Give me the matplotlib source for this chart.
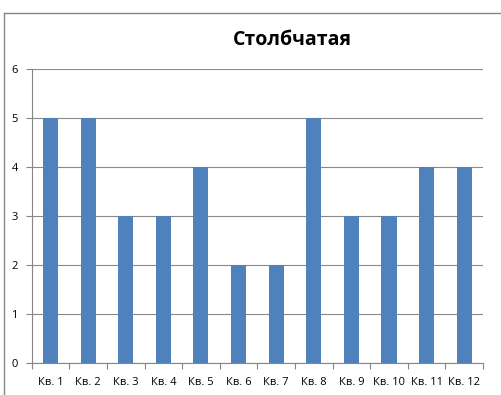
import matplotlib.pyplot as plt
from matplotlib.lines import Line2D
import numpy as np

plt.rcParams['font.family'] = ['Open Sans', 'DejaVu Sans']

categories = ['Кв. 1', 'Кв. 2', 'Кв. 3', 'Кв. 4', 'Кв. 5', 'Кв. 6',
              'Кв. 7', 'Кв. 8', 'Кв. 9', 'Кв. 10', 'Кв. 11', 'Кв. 12']
values = [5, 5, 3, 3, 4, 2, 2, 5, 3, 3, 4, 4]
yticks = [0, 1, 2, 3, 4, 5, 6]
title = 'Столбчатая'

fig = plt.figure(figsize=(5.02, 3.95), dpi=100)
W, H = 502, 395
ax = fig.add_axes([31.7 / W, 1 - 363 / H, (483 - 31.7) / W, (363 - 69) / H])

x = np.arange(len(categories))
ax.bar(x, values, width=0.4, color='#4F81BD', zorder=3)

ax.set_xlim(-0.5, len(categories) - 0.5)
ax.set_ylim(0, 6)
ax.set_yticks(yticks)
ax.set_yticklabels([str(v) for v in yticks], fontsize=8)
ax.set_xticks(x)
ax.set_xticklabels(categories, fontsize=8)
ax.set_xticks(np.arange(len(categories) + 1) - 0.5, minor=True)
ax.tick_params(axis='x', which='major', length=0, pad=10)
ax.tick_params(axis='x', which='minor', length=4, color='#868686', width=0.8)
ax.tick_params(axis='y', length=4, color='#868686', width=0.8, pad=6)
ax.grid(axis='y', color='#898989', linewidth=0.8, zorder=0)
for s in ['top', 'right']:
    ax.spines[s].set_visible(False)
for s in ['left', 'bottom']:
    ax.spines[s].set_color('#868686')
    ax.spines[s].set_linewidth(0.8)

fig.text(292 / W, 1 - 40 / H, title, ha='center', va='center',
         fontsize=14, fontweight='bold')

# outer chart border (partly cropped)
fig.add_artist(Line2D([4 / W, 1.0], [1 - 13 / H, 1 - 13 / H],
                      transform=fig.transFigure, color='#868686', lw=1))
fig.add_artist(Line2D([4 / W, 4 / W], [1 - 13 / H, 0.0],
                      transform=fig.transFigure, color='#868686', lw=1))

fig.savefig('out.png', dpi=100)
